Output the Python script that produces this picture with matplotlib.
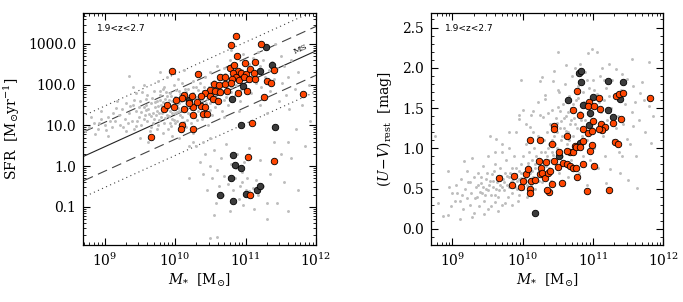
import numpy as np
import matplotlib
matplotlib.use('Agg')
import matplotlib.pyplot as plt
from matplotlib.ticker import FixedLocator, MultipleLocator, FormatStrFormatter

plt.rcParams['font.family'] = ['DejaVu Serif']
plt.rcParams['mathtext.fontset'] = 'dejavuserif'

# ---- left panel: log10(M*) and log10(SFR) ----
sfr_orange_m = [10.87, 10.80, 9.96, 10.33, 10.78, 10.84, 10.89, 10.82, 10.87, 10.90, 10.81, 10.64,
                10.71, 10.55, 10.62, 10.71, 10.79, 10.49, 10.56, 10.64, 10.73, 10.42, 10.36, 10.49,
                10.54, 10.61, 10.89, 10.12, 10.10, 10.01, 9.84, 9.88, 9.98, 10.12, 10.25, 10.36,
                10.43, 10.26, 10.40, 10.45, 10.20, 10.31, 10.24, 11.22, 10.88, 10.99, 11.13, 10.93,
                11.00, 11.07, 11.12, 11.40, 10.98, 11.05, 11.13, 11.31, 11.36, 11.02, 11.26, 11.82,
                9.65, 10.10, 10.08, 10.25, 11.09, 11.03, 11.41, 11.07]
sfr_orange_s = [3.20, 2.98, 2.33, 2.25, 2.42, 2.48, 2.34, 2.28, 2.19, 2.11, 2.13, 2.18,
                2.18, 2.01, 1.99, 2.01, 2.05, 1.88, 1.84, 1.81, 1.85, 1.80, 1.72, 1.72,
                1.64, 1.60, 1.80, 1.74, 1.68, 1.62, 1.41, 1.51, 1.44, 1.41, 1.44, 1.47,
                1.44, 1.25, 1.27, 1.27, 1.55, 1.58, 1.72, 3.00, 2.70, 2.52, 2.56, 2.28,
                2.26, 2.38, 2.28, 2.36, 2.18, 2.13, 2.13, 2.10, 2.05, 1.85, 1.69, 1.78,
                0.72, 1.00, 0.92, 0.92, 1.06, 0.22, 0.12, -0.70]
sfr_dark_m = [11.29, 11.38, 11.21, 10.97, 10.81, 10.19, 10.94, 11.42, 10.82, 10.85, 10.94,
              10.79, 10.64, 10.82, 11.01, 11.16, 11.21]
sfr_dark_s = [2.93, 2.48, 2.34, 1.96, 1.64, 1.62, 1.02, 0.96, 0.26, 0.02, -0.05,
              -0.29, -0.70, -0.86, -0.68, -0.60, -0.49]

sfr_grey = [
    (8.72, 0.86), (8.78, 0.95), (8.85, 1.05), (8.90, 0.90), (8.95, 1.15), (9.00, 1.00), (9.05, 1.20),
    (9.10, 0.95), (9.12, 1.30), (9.15, 1.10), (9.20, 1.25), (9.22, 1.00), (9.25, 1.40), (9.28, 1.15),
    (9.30, 0.85), (9.35, 2.21), (9.30, 1.55), (8.95, 1.35), (9.18, 1.60), (9.05, 0.75), (8.80, 1.20),
    (9.35, 1.30), (9.38, 1.10), (9.40, 1.50), (9.42, 0.90), (9.45, 1.35), (9.48, 1.20), (9.50, 1.60),
    (9.52, 1.00), (9.55, 1.45), (9.57, 1.25), (9.60, 1.75), (9.60, 1.10), (9.62, 1.40), (9.65, 1.55),
    (9.65, 0.95), (9.68, 1.30), (9.70, 1.85), (9.70, 1.15), (9.45, 1.80), (9.55, 2.00), (9.50, 0.70),
    (9.62, 0.60), (9.40, 1.95), (9.78, 2.32), (9.58, 1.65), (9.66, 1.22),
    (9.72, 1.45), (9.74, 1.60), (9.75, 1.00), (9.77, 1.30), (9.78, 1.75), (9.80, 1.20), (9.80, 1.50),
    (9.82, 1.90), (9.84, 1.05), (9.85, 1.40), (9.86, 1.65), (9.88, 1.25), (9.90, 1.55), (9.90, 0.90),
    (9.92, 1.35), (9.93, 1.80), (9.95, 1.15), (9.95, 1.60), (9.97, 1.45), (9.98, 2.00), (10.00, 1.30),
    (10.00, 1.70), (9.76, 2.10), (9.88, 2.20), (9.83, 0.80), (9.96, 0.75), (9.74, 1.35), (9.86, 1.52),
    (9.91, 1.22), (9.99, 1.12), (9.79, 1.62), (9.94, 1.48), (9.81, 1.38), (9.89, 1.72),
    (10.02, 1.50), (10.03, 1.10), (10.05, 1.85), (10.06, 1.35), (10.08, 1.60), (10.10, 1.20),
    (10.10, 2.05), (10.12, 1.45), (10.13, 1.75), (10.15, 0.95), (10.16, 1.55), (10.18, 1.30),
    (10.18, 1.90), (10.20, 1.65), (10.22, 1.05), (10.23, 1.40), (10.25, 2.10), (10.26, 1.80),
    (10.28, 1.20), (10.30, 1.55), (10.30, 1.95), (10.05, 0.70), (10.20, 0.50), (10.12, 2.35),
    (10.25, 0.80), (10.04, 1.42), (10.14, 1.62), (10.21, 1.48), (10.07, 1.25), (10.17, 1.12),
    (10.32, 1.35), (10.33, 1.70), (10.35, 2.05), (10.37, 1.50), (10.38, 1.15), (10.40, 1.85),
    (10.42, 2.20), (10.43, 1.40), (10.45, 1.65), (10.47, 1.00), (10.48, 1.95), (10.50, 1.55),
    (10.50, 2.30), (10.52, 1.25), (10.55, 1.75), (10.55, 2.10), (10.57, 1.45), (10.60, 1.90),
    (10.60, 2.45), (10.40, 0.60), (10.50, 0.70), (10.34, 1.58), (10.44, 1.78),
    (10.62, 1.60), (10.64, 2.20), (10.66, 1.35), (10.68, 1.85), (10.70, 2.40), (10.72, 1.70),
    (10.74, 2.05), (10.75, 1.50), (10.78, 2.60), (10.80, 1.95), (10.82, 2.25), (10.85, 1.75),
    (10.87, 2.50), (10.90, 2.10), (10.92, 1.60), (10.95, 2.35), (10.97, 2.75), (11.00, 1.90),
    (10.70, 1.20), (10.90, 1.35), (10.80, 2.85),
    (11.02, 2.20), (11.05, 2.50), (11.08, 1.80), (11.10, 2.65), (11.12, 2.30), (11.15, 2.05),
    (11.18, 2.80), (11.20, 2.45), (11.22, 1.95), (11.25, 2.60), (11.28, 2.20), (11.30, 2.90),
    (11.33, 2.35), (11.35, 1.85), (11.38, 2.55), (11.40, 2.15), (11.42, 3.00), (11.45, 2.40),
    (11.48, 1.60), (11.20, 1.50), (11.30, 1.30),
    (11.50, 2.70), (11.52, 2.05), (11.55, 2.45), (11.58, 1.75), (11.60, 2.20), (11.62, 1.40),
    (11.65, 2.60), (11.70, 1.90), (11.72, 0.90), (11.75, 2.30), (11.80, 1.50), (11.85, 0.50),
    (11.90, 2.00), (11.92, 1.10), (11.60, 0.60),
    (9.52, 1.32), (9.58, 1.50), (9.63, 1.28), (9.67, 1.68), (9.69, 1.05), (9.71, 1.58), (9.73, 1.25),
    (9.75, 1.48), (9.77, 1.12), (9.79, 1.85), (9.81, 1.30), (9.83, 1.58), (9.85, 1.18), (9.87, 1.82),
    (9.89, 1.40), (9.91, 1.62), (9.92, 1.05), (9.94, 1.72), (9.96, 1.30), (9.98, 1.58), (10.00, 1.05),
    (10.01, 1.88), (10.03, 1.32), (10.05, 1.55), (10.07, 1.78), (10.09, 1.38), (10.11, 1.65),
    (10.13, 1.08), (10.15, 1.82), (10.17, 1.42), (10.19, 1.72), (10.21, 1.28), (10.23, 1.58),
    (10.25, 1.95), (10.27, 1.42), (10.29, 1.70), (10.31, 1.12), (10.33, 1.88), (10.36, 1.28),
    (10.38, 1.62), (10.41, 1.95), (10.44, 1.55), (10.46, 1.82), (10.49, 1.38), (10.51, 2.05),
    (10.54, 1.62), (10.56, 1.90), (10.59, 1.68), (10.61, 2.15), (10.63, 1.85), (10.66, 2.05),
    (10.69, 1.62), (10.71, 2.25), (10.73, 1.92), (10.76, 2.15), (10.79, 1.82), (10.83, 2.40),
    (10.86, 2.00), (10.88, 2.30), (10.93, 1.90), (10.96, 2.15), (10.99, 2.55), (9.42, 1.62),
    (9.46, 1.10), (9.49, 1.45), (9.53, 1.82), (9.56, 1.15), (9.59, 1.38), (9.33, 1.05), (9.36, 1.48),
    (9.26, 0.95), (9.16, 1.42), (9.08, 1.10), (9.02, 0.88), (8.92, 1.05), (8.86, 0.78), (9.44, 0.98),
    (9.64, 0.85), (9.84, 1.95), (10.04, 2.15), (10.14, 1.90), (10.24, 1.55), (9.74, 0.92), (9.94, 0.98),
    (10.30, 0.50), (10.35, 0.10), (10.40, -0.20), (10.42, 0.30), (10.45, -0.60), (10.50, 0.00),
    (10.52, -0.30), (10.55, 0.40), (10.58, -0.90), (10.60, -0.10), (10.62, -0.50), (10.65, 0.20),
    (10.68, -0.70), (10.70, -0.25), (10.72, 0.55), (10.75, -0.45), (10.78, -1.10), (10.80, 0.05),
    (10.82, -0.60), (10.85, -0.30), (10.88, 0.30), (10.90, -0.80), (10.92, -0.50), (10.95, -0.15),
    (10.97, -0.95), (11.00, -0.60), (11.02, -0.30), (11.05, 0.45), (11.08, -0.75), (11.10, -0.55),
    (11.12, -1.05), (11.15, -0.35), (11.18, -0.70), (11.20, 0.15), (11.25, -0.50), (11.30, -1.30),
    (11.35, -0.20), (11.40, 0.60), (11.45, -0.90), (11.50, 0.30), (11.55, -0.40), (11.60, -1.10),
    (11.65, 0.20), (11.75, -0.60), (10.20, -0.30), (10.25, 0.60), (10.50, -1.76), (10.60, -1.75),
    (10.55, -1.20), (11.30, -0.90), (10.95, -0.40), (11.05, -0.62), (10.98, 0.10), (10.86, -0.05)]

# ---- right panel: log10(M*) and (U-V)rest ----
uv_orange_m = [9.66, 9.84, 9.87, 9.97, 10.00, 10.05, 10.07, 10.10, 10.25, 10.41, 10.44, 10.45,
               10.63, 10.10, 10.11, 10.12, 10.18, 10.23, 10.24, 10.26, 10.27, 10.33, 10.32, 10.36,
               10.39, 10.41, 10.38, 10.35, 10.45, 10.52, 10.50, 10.56, 10.57, 10.63, 10.67, 10.67,
               10.71, 10.71, 10.76, 10.77, 10.63, 10.74, 10.77, 10.94, 10.93, 11.09, 11.33, 11.37,
               11.42, 11.81, 10.71, 10.81, 11.02, 11.10, 11.40, 11.28, 11.00, 11.12, 11.17, 11.13,
               10.85, 10.93, 10.98, 11.08, 10.85, 10.76, 10.82, 10.99, 11.31, 11.36, 10.95, 10.86,
               11.02, 11.23, 10.91]
uv_orange_c = [0.635, 0.54, 0.655, 0.52, 0.59, 0.68, 0.74, 1.10, 1.10, 1.05, 1.28, 1.245,
               1.15, 0.49, 0.45, 0.59, 0.61, 0.84, 0.68, 0.75, 0.70, 0.83, 0.635, 0.70,
               0.72, 0.56, 0.46, 0.48, 0.84, 0.95, 0.77, 0.57, 0.82, 0.80, 0.78, 0.95,
               0.95, 0.75, 0.76, 0.65, 0.97, 1.03, 1.71, 1.58, 1.53, 1.63, 1.65, 1.67,
               1.69, 1.62, 1.47, 1.42, 1.53, 1.49, 1.37, 1.32, 1.34, 1.30, 1.27, 1.23,
               1.245, 1.195, 1.215, 1.24, 1.09, 1.02, 1.02, 1.04, 1.08, 1.05, 0.97, 0.80,
               0.78, 0.48, 0.47]
uv_dark_m = [10.80, 10.83, 10.83, 11.21, 11.42, 11.00, 10.64, 11.38, 10.85, 10.95, 11.21,
             11.29, 10.94, 10.81, 10.52, 10.18]
uv_dark_c = [1.93, 1.96, 1.82, 1.83, 1.82, 1.64, 1.60, 1.61, 1.535, 1.435, 1.48,
             1.39, 1.29, 1.07, 0.90, 0.20]

uv_grey = [
    (8.75, 1.15), (8.80, 0.32), (8.86, 0.16), (8.93, 0.17), (8.94, 0.72), (8.98, 0.28), (9.00, 0.45),
    (9.05, 0.55), (9.07, 0.45), (9.10, 0.12), (9.10, 0.35), (9.12, 0.62), (9.15, 0.25), (9.17, 0.84),
    (9.18, 0.50), (9.20, 0.38), (9.22, 0.58), (9.25, 0.30), (9.27, 0.45), (9.28, 0.88), (9.30, 0.65),
    (9.30, 0.20), (9.33, 0.52), (9.35, 0.40), (9.37, 0.70), (9.38, 0.28), (9.40, 0.57), (9.42, 0.45),
    (9.43, 0.78), (9.45, 0.35), (9.47, 0.62), (9.48, 0.50), (9.50, 0.90), (9.50, 0.25), (9.52, 0.55),
    (9.53, 1.15), (9.55, 0.42), (9.56, 0.68), (9.58, 0.60), (9.60, 0.33), (9.60, 0.80), (9.62, 1.11),
    (9.62, 0.50), (9.64, 0.65), (9.65, 0.40), (9.67, 0.75), (9.68, 0.55), (9.70, 0.95), (9.70, 0.30),
    (9.72, 0.62), (9.73, 0.48), (9.75, 0.70), (9.76, 0.85), (9.78, 0.55), (9.79, 0.40), (9.80, 0.65),
    (9.81, 1.00), (9.83, 0.58), (9.84, 0.75), (9.85, 0.45), (9.86, 0.62), (9.88, 0.90), (9.89, 0.52),
    (9.90, 0.68), (9.91, 1.20), (9.92, 0.60), (9.93, 0.35), (9.94, 1.36), (9.95, 0.72), (9.95, 1.42),
    (9.96, 0.55), (9.97, 0.80), (9.98, 1.85), (9.98, 0.63), (10.00, 1.48), (10.00, 0.50), (10.01, 0.90),
    (10.02, 0.70), (10.03, 0.58), (10.04, 1.05), (10.05, 0.65), (10.06, 0.40), (10.07, 0.78),
    (10.08, 0.60), (10.09, 0.95), (10.10, 1.27), (10.10, 0.70), (10.12, 1.41), (10.12, 0.55),
    (10.13, 0.85), (10.14, 1.46), (10.15, 0.65), (10.16, 1.00), (10.17, 0.75), (10.18, 0.50),
    (10.19, 0.90), (10.20, 0.62),
    (10.21, 1.58), (10.22, 1.15), (10.23, 0.80), (10.24, 1.84), (10.24, 1.41), (10.25, 0.70),
    (10.26, 0.95), (10.27, 0.58), (10.28, 1.88), (10.29, 1.39), (10.30, 1.10), (10.30, 0.82),
    (10.31, 1.66), (10.32, 1.61), (10.33, 0.65), (10.34, 1.20), (10.35, 0.90), (10.36, 1.44),
    (10.37, 1.05), (10.38, 0.75), (10.39, 1.30), (10.40, 0.60), (10.41, 1.48), (10.41, 1.29),
    (10.42, 0.95), (10.43, 1.84), (10.44, 1.96), (10.45, 1.15), (10.46, 0.80), (10.47, 1.38),
    (10.48, 1.32), (10.49, 1.00), (10.50, 2.19), (10.50, 1.73), (10.50, 1.51), (10.51, 0.70),
    (10.52, 1.70), (10.53, 1.46), (10.54, 1.10), (10.55, 1.34), (10.56, 0.90), (10.57, 1.55),
    (10.58, 1.25), (10.59, 0.55), (10.60, 1.80), (10.61, 2.03), (10.62, 1.40), (10.63, 1.05),
    (10.64, 1.20), (10.65, 0.65), (10.66, 1.65), (10.67, 1.30), (10.68, 0.85), (10.69, 1.50),
    (10.70, 1.90), (10.72, 1.15), (10.73, 1.38), (10.74, 2.00), (10.75, 0.95), (10.76, 1.60),
    (10.77, 1.25), (10.78, 1.78), (10.80, 0.70), (10.81, 1.45), (10.82, 2.05), (10.84, 1.15),
    (10.85, 1.70), (10.86, 0.90), (10.88, 1.35), (10.89, 1.95), (10.90, 1.55), (10.91, 0.55),
    (10.92, 1.10), (10.93, 2.18), (10.94, 1.75), (10.95, 1.40), (10.96, 0.85), (10.97, 1.62),
    (10.98, 2.23), (10.99, 1.25), (11.00, 1.85), (11.01, 1.00), (11.03, 1.50), (11.05, 2.19),
    (11.06, 1.68), (11.07, 0.75), (11.08, 1.30), (11.10, 1.90), (11.11, 1.45), (11.13, 2.00),
    (11.14, 1.15), (11.15, 1.60), (11.17, 0.90), (11.18, 1.75), (11.19, 0.57),
    (11.20, 1.35), (11.22, 2.05), (11.24, 0.74), (11.25, 1.50), (11.27, 1.85), (11.28, 1.10),
    (11.30, 1.65), (11.32, 1.25), (11.33, 1.98), (11.35, 1.40), (11.37, 0.95), (11.38, 0.70),
    (11.40, 1.72), (11.41, 1.92), (11.41, 0.90), (11.43, 1.30), (11.45, 1.55), (11.48, 1.86),
    (11.48, 1.11), (11.50, 0.61), (11.52, 1.05), (11.55, 1.45), (11.56, 2.11), (11.57, 1.78),
    (11.57, 1.28), (11.60, 1.57), (11.61, 0.90), (11.62, 0.51), (11.65, 1.35), (11.67, 1.69),
    (11.69, 1.82), (11.72, 1.60), (11.74, 1.20), (11.79, 1.53), (11.80, 2.07), (11.83, 1.07),
    (11.86, 1.40),
    (9.32, 0.38), (9.36, 0.55), (9.39, 0.46), (9.41, 0.65), (9.44, 0.52), (9.46, 0.42), (9.49, 0.70),
    (9.51, 0.48), (9.54, 0.60), (9.57, 0.52), (9.59, 0.72), (9.61, 0.42), (9.63, 0.58), (9.66, 0.48),
    (9.69, 0.66), (9.71, 0.52), (9.74, 0.58), (9.77, 0.66), (9.80, 0.52), (9.82, 0.70), (9.84, 0.60),
    (9.87, 0.55), (9.90, 0.75), (9.92, 0.50), (9.94, 0.62), (9.97, 0.70), (9.99, 0.58), (10.02, 0.62),
    (10.04, 0.75), (10.06, 0.55), (10.08, 0.82), (10.11, 0.62), (10.13, 0.72), (10.16, 0.58),
    (10.18, 0.80), (10.21, 0.68), (10.23, 0.60), (10.26, 0.85), (10.28, 0.72), (10.31, 0.95),
    (10.33, 0.78), (10.36, 1.00), (10.38, 0.85), (10.41, 1.10), (10.43, 0.92), (10.46, 1.05),
    (10.48, 1.20), (10.51, 0.98), (10.53, 1.25), (10.56, 1.15), (10.58, 1.38), (10.61, 1.22),
    (10.64, 1.45), (10.66, 1.10), (10.69, 1.35), (10.72, 1.55), (10.75, 1.30), (10.79, 1.62),
    (10.83, 1.35), (10.87, 1.58), (10.91, 1.85), (10.96, 1.50), (11.02, 1.72), (11.08, 1.58),
    (11.16, 1.85), (11.23, 1.65), (9.25, 0.58), (9.21, 0.72), (9.14, 0.42), (9.04, 0.35), (8.95, 0.52),
    (9.28, 0.15), (9.45, 0.18), (9.55, 0.28), (9.65, 0.22), (9.75, 0.32), (9.85, 0.30), (9.95, 0.42),
    (9.70, 1.05), (9.80, 1.20), (9.60, 0.95), (10.05, 1.30), (10.15, 1.20)]

# main sequence: log SFR = ms_slope * (log M - 10) + ms_norm
ms_slope = 0.785
ms_norm = 1.26

orange = '#ff4500'
dark = '#3c3c3c'
grey = '#bdbdbd'

fig = plt.figure(figsize=(6.83, 3.02), dpi=100)
ax1 = fig.add_axes([0.1215, 0.1887, 0.3411, 0.7682])
ax2 = fig.add_axes([0.6306, 0.1887, 0.3406, 0.7682])

xlo, xhi = 10**8.69, 10**12

# left panel
lm = np.linspace(8.5, 12.2, 50)
ms = ms_slope * (lm - 10) + ms_norm
ax1.plot(10**lm, 10**ms, color='#222222', lw=0.8, zorder=1)
for off in (0.6, -0.6):
    ax1.plot(10**lm, 10**(ms + off), color='#444444', lw=0.8, ls=(0, (9, 5)), zorder=1)
for off in (1.0, -1.0):
    ax1.plot(10**lm, 10**(ms + off), color='#444444', lw=0.8, ls=(0, (1, 3)), zorder=1)

g = np.array(sfr_grey)
ax1.scatter(10**g[:, 0], 10**g[:, 1], s=4.5, c=grey, lw=0, zorder=2)
ax1.scatter(10**np.array(sfr_dark_m), 10**np.array(sfr_dark_s), s=22, c=dark,
            edgecolors='black', linewidths=0.6, zorder=3)
ax1.scatter(10**np.array(sfr_orange_m), 10**np.array(sfr_orange_s), s=22, c=orange,
            edgecolors='black', linewidths=0.6, zorder=4)
ax1.text(10**11.78, 10**2.86, 'MS', rotation=24, fontsize=6, ha='center', va='center')

ax1.set_xscale('log')
ax1.set_yscale('log')
ax1.set_xlim(xlo, xhi)
ax1.set_ylim(10**-1.94, 10**3.76)
ax1.yaxis.set_major_locator(FixedLocator([0.1, 1, 10, 100, 1000]))
ax1.set_yticklabels(['0.1', '1.0', '10.0', '100.0', '1000.0'])
ax1.set_ylabel(r'SFR  [M$_{\odot}$yr$^{-1}$]', fontsize=10, labelpad=4)

# right panel
g = np.array(uv_grey)
ax2.scatter(10**g[:, 0], g[:, 1], s=4.5, c=grey, lw=0, zorder=2)
ax2.scatter(10**np.array(uv_dark_m), uv_dark_c, s=22, c=dark,
            edgecolors='black', linewidths=0.6, zorder=3)
ax2.scatter(10**np.array(uv_orange_m), uv_orange_c, s=22, c=orange,
            edgecolors='black', linewidths=0.6, zorder=4)
ax2.set_xscale('log')
ax2.set_xlim(xlo, xhi)
ax2.set_ylim(-0.2, 2.68)
ax2.yaxis.set_major_locator(MultipleLocator(0.5))
ax2.yaxis.set_minor_locator(MultipleLocator(0.1))
ax2.yaxis.set_major_formatter(FormatStrFormatter('%.1f'))
ax2.set_ylabel(r'$(U\!-\!V)_{\rm rest}$  [mag]', fontsize=10, labelpad=6)

for ax in (ax1, ax2):
    ax.xaxis.set_major_locator(FixedLocator([1e9, 1e10, 1e11, 1e12]))
    ax.set_xticklabels([r'$10^{9}$', r'$10^{10}$', r'$10^{11}$', r'$10^{12}$'])
    ax.tick_params(which='both', direction='in', top=True, right=True, labelsize=10)
    ax.tick_params(which='major', length=5, width=0.8, pad=5)
    ax.tick_params(which='minor', length=2.5, width=0.6)
    ax.set_xlabel(r'$M_{*}$  [M$_{\odot}$]', fontsize=10, labelpad=2)
    ax.text(0.06, 0.935, '1.9<z<2.7', transform=ax.transAxes, fontsize=6.5,
            family='DejaVu Sans', ha='left', va='center')
    for sp in ax.spines.values():
        sp.set_linewidth(0.9)

fig.savefig('out.png', dpi=100)
